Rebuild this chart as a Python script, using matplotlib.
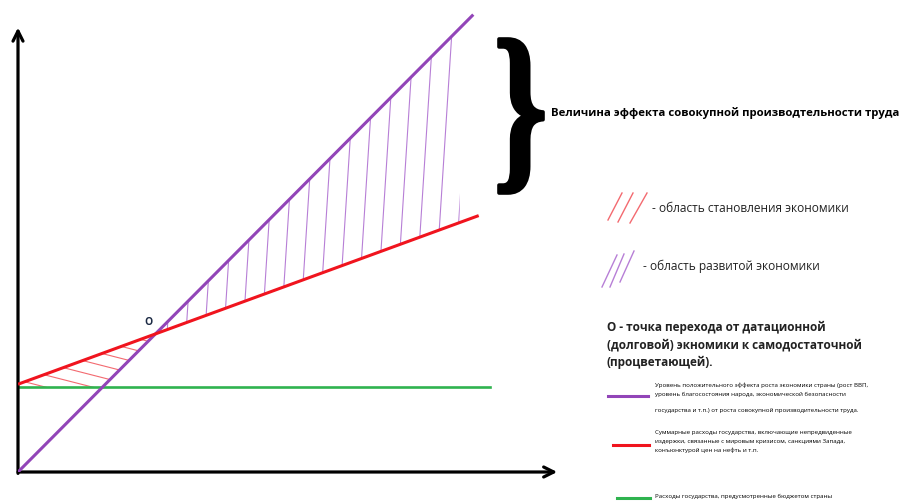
import numpy as np
import matplotlib
matplotlib.use('Agg')
import matplotlib.pyplot as plt
from matplotlib.lines import Line2D
from matplotlib.patches import PathPatch
from matplotlib.textpath import TextPath
from matplotlib.font_manager import FontProperties
from matplotlib.transforms import Affine2D, IdentityTransform

# schematic lines, axis units 0..10
purple_x = [0.0, 8.4]      # effect of total labour productivity
purple_y = [0.0, 9.9]
red_x = [0.0, 8.5]         # total state spending
red_y = [1.9, 5.55]
green_x = [0.0, 8.7]       # budget spending
green_y = [1.84, 1.84]
hatch_end_x = 8.15         # right edge of the developed-economy area

brace_label = 'Величина эффекта совокупной производтельности труда'
red_area_label = '- область становления экономики'
purple_area_label = '- область развитой экономики'
point_label = ['О - точка перехода от датационной',
               '(долговой) экномики к самодостаточной',
               '(процветающей).']
purple_legend = ['Уровень положительного эффекта роста экономики страны (рост ВВП,',
                 'уровень благосостояния народа, экономической безопасности',
                 'государства и т.п.) от роста совокупной производительности труда.']
red_legend = ['Суммарные расходы государства, включающие непредвиденные',
              'издержки, связанные с мировым кризисом, санкциями Запада,',
              'конъюнктурой цен на нефть и т.п.']
green_legend = ['Расходы государства, предусмотренные бюджетом страны']

PURPLE = '#9245b8'
RED = '#f0141e'
GREEN = '#2fb34f'
FONT = ['Open Sans', 'DejaVu Sans']

W, H = 904, 501
fig = plt.figure(figsize=(W / 100, H / 100), dpi=100)


def fx(x):
    return x / W


def fy(y):
    return 1 - y / H


ax = fig.add_axes([fx(18), fy(472), fx(542), 462 / H])
ax.set_xlim(0, 10)
ax.set_ylim(0, 10)
ax.axis('off')

# main lines
ax.plot(purple_x, purple_y, color=PURPLE, lw=2.2, solid_capstyle='butt', zorder=4)
ax.plot(red_x, red_y, color=RED, lw=2.2, solid_capstyle='butt', zorder=4)
ax.plot(green_x, green_y, color=GREEN, lw=1.9, zorder=3)

# intersections
kp = (purple_y[1] - purple_y[0]) / (purple_x[1] - purple_x[0])
kr = (red_y[1] - red_y[0]) / (red_x[1] - red_x[0])
xo = (red_y[0] - purple_y[0]) / (kp - kr)
yo = purple_y[0] + kp * xo
xg = (green_y[0] - purple_y[0]) / kp

# hatched areas: invisible polygons used as clip paths
red_poly = ax.fill([0, xo, xg, 0], [red_y[0], yo, green_y[0], green_y[0]],
                   fc='none', ec='none')[0]
pe_top = purple_y[0] + kp * hatch_end_x
pe_bot = red_y[0] + kr * hatch_end_x
purple_poly = ax.fill([xo, hatch_end_x, hatch_end_x], [yo, pe_top, pe_bot],
                      fc='none', ec='none')[0]

for x0 in np.arange(xo - 0.3, hatch_end_x + 0.05, 0.35):
    ln, = ax.plot([x0, x0 + 0.6], [0, 11], color='#b77fd6', lw=0.8, zorder=2)
    ln.set_clip_path(purple_poly)

for c in np.arange(green_y[0] + 0.15, yo + 1.0, 0.26):
    ln, = ax.plot([0, 4], [c, c - 0.3 * 4], color='#f36a70', lw=0.8, zorder=2)
    ln.set_clip_path(red_poly)

ax.text(xo - 0.13, yo + 0.25, 'О', color='#1c2a44', fontsize=7.5,
        fontweight='bold', ha='center', va='center', family=FONT)

# axes with arrows
arrow = dict(arrowstyle='->', lw=2.3, color='black', mutation_scale=18)
ax.annotate('', xy=(0, 9.68), xytext=(0, -0.09), arrowprops=arrow,
            annotation_clip=False)
ax.annotate('', xy=(10, 0), xytext=(-0.05, 0), arrowprops=arrow,
            annotation_clip=False)

# curly brace
tp = TextPath((0, 0), '}', size=100,
              prop=FontProperties(family='Liberation Serif', weight='bold'))
bb = tp.get_extents()
tr = (Affine2D().translate(-bb.x0, -bb.y0)
      .scale(44 / bb.width, 154 / bb.height)
      .translate(499, H - 193))
fig.add_artist(PathPatch(tr.transform_path(tp), fc='black', ec='black', lw=2.6,
                         joinstyle='round', transform=IdentityTransform()))
fig.text(fx(551), fy(113), brace_label, fontsize=8.2, fontweight='bold',
         va='center', ha='left', family=FONT)

# area legend
for x1, y1, x2, y2 in [(608, 220, 622, 193), (618, 222, 633, 193), (630, 223, 647, 193)]:
    fig.add_artist(Line2D([fx(x1), fx(x2)], [fy(y1), fy(y2)], color='#f36a70', lw=1.0))
for x1, y1, x2, y2 in [(602, 287, 617, 255), (610, 287, 624, 254), (620, 282, 634, 251)]:
    fig.add_artist(Line2D([fx(x1), fx(x2)], [fy(y1), fy(y2)], color='#b77fd6', lw=1.0))
fig.text(fx(652), fy(208), red_area_label, fontsize=8.6, va='center', family=FONT,
         color='#222222')
fig.text(fx(643), fy(266), purple_area_label, fontsize=8.6, va='center', family=FONT,
         color='#222222')
for s, y in zip(point_label, [327, 345, 362]):
    fig.text(fx(607), fy(y), s, fontsize=8.5, fontweight='bold', va='center',
             family=FONT, color='#222222')

# line legend
fig.add_artist(Line2D([fx(608), fx(648)], [fy(396), fy(396)], color=PURPLE, lw=2.2))
fig.add_artist(Line2D([fx(613), fx(649)], [fy(445), fy(445)], color=RED, lw=2.2))
fig.add_artist(Line2D([fx(617), fx(650)], [fy(498), fy(498)], color=GREEN, lw=2.2))
for s, y in zip(purple_legend, [385, 394, 410]):
    fig.text(fx(655), fy(y), s, fontsize=4.4, va='center', family=FONT)
for s, y in zip(red_legend, [432, 441, 450]):
    fig.text(fx(655), fy(y), s, fontsize=4.4, va='center', family=FONT)
for s, y in zip(green_legend, [496]):
    fig.text(fx(655), fy(y), s, fontsize=4.4, va='center', family=FONT)

fig.savefig('out.png', dpi=100)
